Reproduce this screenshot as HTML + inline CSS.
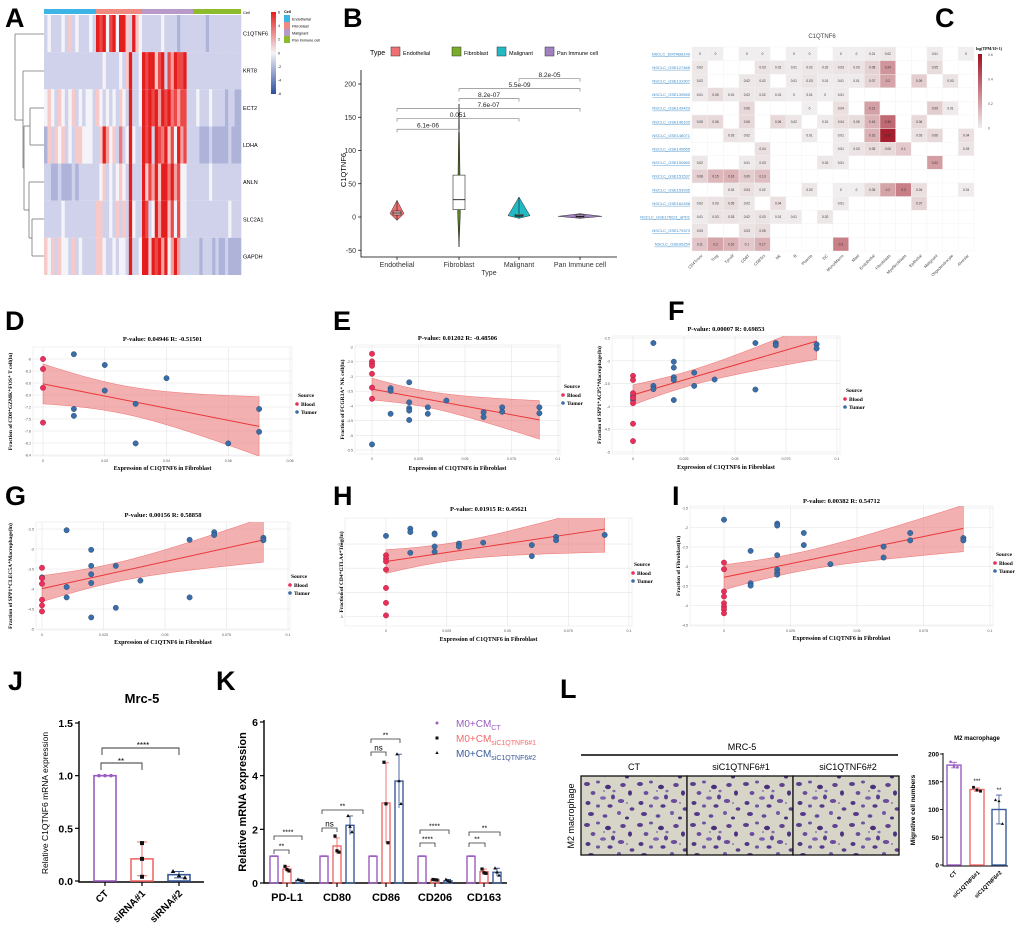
<!DOCTYPE html>
<html><head><meta charset="utf-8">
<style>
html,body{margin:0;padding:0;background:#fff;}
svg{display:block;font-family:"Liberation Sans",sans-serif;}
.let{font-family:"Liberation Sans",sans-serif;font-weight:bold;font-size:27px;fill:#000;}
.ser{font-family:"Liberation Serif",serif;}
</style></head>
<body>
<svg id="fig" width="1020" height="937" viewBox="0 0 1020 937" xmlns="http://www.w3.org/2000/svg">
<defs>
<pattern id="cells" x="0" y="0" width="53" height="41" patternUnits="userSpaceOnUse">
<rect width="53" height="41" fill="#d6d5c8"/>
<ellipse cx="4" cy="5" rx="3" ry="2" fill="#5a3e8c"/><ellipse cx="15" cy="3" rx="2" ry="1.5" fill="#6d52a0"/>
<ellipse cx="25" cy="8" rx="3" ry="2.2" fill="#4a2f7a"/><ellipse cx="10" cy="14" rx="2.4" ry="2" fill="#6a4c9c"/>
<ellipse cx="30" cy="18" rx="2" ry="2.5" fill="#5b3f8e"/><ellipse cx="20" cy="19" rx="3" ry="1.8" fill="#7c62ae"/>
<ellipse cx="5" cy="24" rx="2.5" ry="2" fill="#4f3582"/><ellipse cx="15" cy="27" rx="2" ry="1.6" fill="#6d52a0"/>
<ellipse cx="27" cy="27" rx="2.6" ry="1.8" fill="#54388a"/><ellipse cx="40" cy="6" rx="2.8" ry="2" fill="#5e428f"/>
<ellipse cx="47" cy="14" rx="2" ry="2.6" fill="#4c3180"/><ellipse cx="38" cy="22" rx="3.2" ry="2" fill="#6a4c9c"/>
<ellipse cx="49" cy="30" rx="2.4" ry="1.8" fill="#5a3e8c"/><ellipse cx="36" cy="34" rx="2" ry="2" fill="#7458a8"/>
<ellipse cx="8" cy="35" rx="3" ry="2" fill="#54388a"/><ellipse cx="22" cy="37" rx="2.4" ry="1.8" fill="#63479a"/>
<ellipse cx="44" cy="39" rx="2" ry="1.5" fill="#4a2f7a"/><ellipse cx="31" cy="12" rx="1.6" ry="1.3" fill="#8068ae"/>
<circle cx="21" cy="12" r="1" fill="#8a80a8"/><circle cx="44" cy="24" r="1" fill="#8a80a8"/>
</pattern>
</defs>
<text class="let" x="5" y="27">A</text>
<text class="let" x="343" y="27">B</text>
<text class="let" x="935" y="27">C</text>
<text class="let" x="5" y="330">D</text>
<text class="let" x="333" y="330">E</text>
<text class="let" x="668" y="320">F</text>
<text class="let" x="5" y="505">G</text>
<text class="let" x="333" y="505">H</text>
<text class="let" x="672" y="505">I</text>
<text class="let" x="8" y="690">J</text>
<text class="let" x="216" y="690">K</text>
<text class="let" x="560" y="698">L</text>
</svg>
<script>
// ---------- Panel A data ----------
const heatGroups=['Endothelial','Fibroblast','Malignant','Pan Immune cell'];
const heatGenes=['C1QTNF6','KRT8','ECT2','LDHA','ANLN','SLC2A1','GAPDH'];
const heatC1=['343334353433343','98948949953954','3333334333323333','333323333333333'];
const heatKRT8=['333333333333333','33433334359334','9899589386988933','333333333333333'];
const heatECT2=['454354345343443','54343435439334','9898969897868833','343334333323322'];
const heatLDHA=['253545343554443','35964537349433','9893987958496833','332223222223222'];
const heatANLN=['332232223233333','34534345439333','9586959979684433','333334333333333'];
const heatSLC=['333334333333333','55334353539433','9834969958484433','333333333334333'];
const heatGAPDH=['545354435343333','55433434439334','9959896946963333','332333232232222'];
const heatRows=[heatC1,heatKRT8,heatECT2,heatLDHA,heatANLN,heatSLC,heatGAPDH];
// ---------- Panel B data ----------
const bCats=['Endothelial','Fibroblast','Malignant','Pan Immune cell'];
const bMin=[-5,-45,-2,-2];
const bMax=[25,170,30,5];
const bMode=[5,10,2,1];
const bHalfW=[7,1.5,11,22];
const bQ1=[3,11,1,0];
const bMed=[6,26,2,1];
const bQ3=[9,63,4,3];
const bPairA=[0,0,0,1,1,2];
const bPairB=[1,2,3,2,3,3];
const bPairY=[132,148,163,178,193,208];
const bPairLab=['6.1e-06','0.051','7.6e-07','8.2e-07','5.5e-09','8.2e-05'];
const bYTicks=[-50,0,50,100,150,200];
// ---------- Panel C data ----------
const cCols=['CD4Tconv','Treg','Tprolif','CD8T','CD8Tex','NK','B','Plasma','DC','Mono/Macro','Mast','Endothelial','Fibroblasts','Myofibroblasts','Epithelial','Malignant','Oligodendrocyte','Alveolar'];
const cRowsLab=['NSCLC_EMTAB6149','NSCLC_GSE127465','NSCLC_GSE131907','NSCLC_GSE139555','NSCLC_GSE143423','NSCLC_GSE146100','NSCLC_GSE148071','NSCLC_GSE149655','NSCLC_GSE150660','NSCLC_GSE151537','NSCLC_GSE153935','NSCLC_GSE162498','NSCLC_GSE176021_aPD1','NSCLC_GSE179373','NSCLC_GSE99254'];
const _=null;
const cVals=[
[0,0,_,0,0,_,0,0,_,0,0,0.01,0.02,_,_,0.01,_,0],
[0.02,_,_,_,0.03,0.02,0.01,0.02,0.02,0.03,0.03,0.08,0.24,_,_,0.05,_,_],
[0.02,_,_,0.02,0.02,_,0.01,0.03,0.01,0.01,0.01,0.07,0.2,_,0.09,_,0.03,_],
[0.01,0.05,0.01,0.02,0.02,0.01,0,0.01,0,0.01,_,_,_,_,_,_,_,_],
[_,_,_,0.06,_,_,_,0,_,0.04,_,0.21,_,_,_,0.09,0.01,_],
[0.05,0.06,_,0.06,_,0.06,0.02,_,0.01,0.04,0.05,0.16,0.36,_,0.06,_,_,_],
[_,_,0.03,0.02,_,_,_,0.01,_,0.01,_,0.16,0.56,_,0.03,0.06,_,0.04],
[_,_,_,_,0.04,_,_,_,_,0.01,0.03,0.05,0.06,0.1,_,_,_,0.03],
[0.02,_,_,0.01,0.03,_,_,_,0.02,0.01,_,_,_,_,_,0.22,_,_],
[0.08,0.15,0.16,0.09,0.13,_,_,_,_,_,_,_,_,_,_,_,_,_],
[_,_,0.02,0.04,0.02,_,_,0.02,_,0,0,0.05,0.2,0.3,0.04,_,_,0.01],
[0.02,0.03,0.05,0.02,_,0.04,_,_,_,0.01,_,_,_,_,0.07,_,_,_],
[0.01,0.03,0.03,0.02,0.03,0.01,0.01,_,0.02,_,_,_,_,_,_,_,_,_],
[0.03,_,_,0.03,0.05,_,_,_,_,_,_,_,_,_,_,_,_,_],
[0.11,0.2,0.16,0.1,0.17,_,_,_,_,0.3,_,_,_,_,_,_,_,_]];
// ---------- Scatter data (D-I) ----------
const dBloodX=[0,0,0,0];
const dBloodY=[-6.0,-6.25,-6.72,-7.59];
const dTumorX=[0.01,0.01,0.01,0.02,0.02,0.03,0.03,0.04,0.06,0.07,0.07];
const dTumorY=[-5.88,-7.25,-7.42,-6.15,-6.79,-7.12,-8.11,-6.48,-8.11,-7.25,-7.82];
const eBloodX=[0,0,0,0,0,0,0];
const eBloodY=[-2.23,-2.49,-2.57,-2.64,-2.91,-3.38,-3.76];
const eTumorX=[0,0.01,0.01,0.01,0.02,0.02,0.02,0.02,0.02,0.03,0.03,0.04,0.06,0.06,0.07,0.07,0.09,0.09];
const eTumorY=[-5.31,-3.4,-3.49,-4.27,-3.2,-3.88,-4.08,-4.16,-4.48,-4.05,-4.27,-3.82,-4.22,-4.38,-4.05,-4.2,-4.05,-4.25];
const fBloodX=[0,0,0,0,0,0,0];
const fBloodY=[-3.33,-3.42,-3.71,-3.81,-3.93,-4.38,-4.76];
const fTumorX=[0,0,0.01,0.01,0.01,0.02,0.02,0.02,0.02,0.02,0.03,0.03,0.04,0.06,0.06,0.07,0.07,0.09,0.09];
const fTumorY=[-3.77,-3.86,-2.61,-3.55,-3.62,-3.02,-3.15,-3.36,-3.42,-3.86,-3.26,-3.55,-3.41,-2.61,-3.63,-2.61,-2.66,-2.64,-2.73];
const gBloodX=[0,0,0,0,0,0];
const gBloodY=[-3.47,-3.73,-3.87,-4.27,-4.41,-4.56];
const gTumorX=[0,0.01,0.01,0.01,0.02,0.02,0.02,0.02,0.02,0.03,0.03,0.04,0.06,0.06,0.07,0.07,0.09,0.09];
const gTumorY=[-3.71,-2.53,-3.95,-4.21,-3.02,-3.42,-3.63,-3.85,-4.71,-3.42,-4.47,-3.79,-2.77,-4.21,-2.58,-2.65,-2.72,-2.78];
const hBloodX=[0,0,0,0,0,0,0];
const hBloodY=[-3.73,-3.8,-3.86,-4.03,-4.41,-4.72,-4.98];
const hTumorX=[0,0.01,0.01,0.01,0.02,0.02,0.02,0.02,0.03,0.03,0.04,0.06,0.06,0.07,0.07,0.09];
const hTumorY=[-3.33,-3.18,-3.25,-3.68,-3.28,-3.3,-3.55,-3.66,-3.49,-3.55,-3.47,-3.52,-3.75,-3.35,-3.42,-3.31];
const iBloodX=[0,0,0,0,0,0,0,0];
const iBloodY=[-2.9,-3.07,-3.64,-3.77,-3.94,-4.03,-4.1,-4.2];
const iTumorX=[0,0.01,0.01,0.01,0.02,0.02,0.02,0.02,0.02,0.02,0.03,0.03,0.04,0.06,0.06,0.07,0.07,0.09,0.09];
const iTumorY=[-1.8,-2.6,-3.43,-3.49,-1.9,-1.95,-2.71,-3.08,-3.17,-3.21,-2.14,-2.45,-2.94,-2.49,-2.77,-2.14,-2.33,-2.27,-2.33];
// ---------- Panel J data ----------
const jCats=['CT','siRNA#1','siRNA#2'];
const jMean=[1.0,0.21,0.06];
const jSD=[0,0.16,0.03];
const jPts=[[1,1,1],[0.36,0.21,0.04],[0.09,0.05,0.03]];
const jTicks=[0,0.5,1.0,1.5];
// ---------- Panel K data ----------
const kCats=['PD-L1','CD80','CD86','CD206','CD163'];
const kCT=[1,1,1,1,1];
const kSi1=[0.52,1.38,2.98,0.12,0.42];
const kSi2=[0.1,2.15,3.8,0.08,0.4];
const kSD1=[0.1,0.3,1.5,0.02,0.1];
const kSD2=[0.03,0.35,1.0,0.05,0.15];
const kPts1=[[0.62,0.5,0.45],[1.75,1.2,1.15],[4.5,2.95,1.5],[0.13,0.12,0.11],[0.52,0.38,0.36]];
const kPts2=[[0.13,0.1,0.08],[2.5,2.1,1.9],[4.8,3.8,2.95],[0.13,0.08,0.05],[0.55,0.4,0.28]];
const kTicks=[0,2,4,6];
// ---------- Panel L data ----------
const lCats=['CT','siC1QTNF6#1','siC1QTNF6#2'];
const lMean=[180,136,100];
const lSD=[5,3,26];
const lPts=[[186,178,176],[140,135,133],[117,115,74]];
const lTicks=[0,50,100,150,200];

const NS='http://www.w3.org/2000/svg';
const svg=document.getElementById('fig');
function mk(tag,attrs,parent){const e=document.createElementNS(NS,tag);for(const k in attrs)e.setAttribute(k,attrs[k]);(parent||svg).appendChild(e);return e;}
function tx(str,attrs,parent){const e=mk('text',attrs,parent);e.textContent=str;return e;}
function lin(d0,d1,r0,r1){return v=>r0+(v-d0)/(d1-d0)*(r1-r0);}
function grp(name){const g=mk('g',{});return g;}

// ================= PANEL A =================
(function(){
const g=grp('heatmap-panel-a');
const bounds=[44,96,142,193,241];
const gcol=['#3cb4e6','#f08a80','#b89ac8','#8cbc2c'];
const pal=['#6b74b8','#8c93c9','#aeb3da','#cfd2ea','#f4f3f7','#f7c9c9','#f4a0a0','#f07878','#ec4848','#e41e1e'];
const top=15,bot=275,rh=(bot-top)/heatGenes.length;
heatGroups.forEach((name,gi)=>{
  const r=mk('rect',{x:bounds[gi],y:9,width:bounds[gi+1]-bounds[gi],height:5,fill:gcol[gi]},g);
  
  
});
tx('Cell',{x:243,y:14,'font-size':4},g);
heatRows.forEach((row,ri)=>{
  row.forEach((s,gi)=>{
    const w=(bounds[gi+1]-bounds[gi])/s.length;
    for(let k=0;k<s.length;k++){
      const c=mk('rect',{x:bounds[gi]+k*w,y:top+ri*rh,width:w+0.3,height:rh,fill:pal[+s[k]]},g);
      
      
    }
  });
  const t=tx(heatGenes[ri],{x:243,y:top+ri*rh+rh/2+2,'font-size':5.5},g);
  
  
});
const dl=[[44,34,15,34],[44,71,23,71],[44,108,30,108],[44,145,30,145],[30,108,30,145],[44,182,29,182],[44,219,32,219],[44,256,32,256],[32,219,32,256],[32,238,29,238],[29,182,29,238],[30,126,24,126],[29,210,24,210],[24,126,24,210],[24,168,23,168],[23,71,23,168],[23,120,15,120],[15,34,15,120]];
dl.forEach(l=>mk('line',{x1:l[0],y1:l[1],x2:l[2],y2:l[3],stroke:'#777','stroke-width':0.8},g));
const gr=mk('linearGradient',{id:'gA',x1:0,y1:0,x2:0,y2:1},g);
['#e41e1e','#f4f3f7','#2c4ea0'].forEach((c,i)=>mk('stop',{offset:i*50+'%','stop-color':c},gr));
const cb=mk('rect',{x:271,y:12,width:5,height:82,fill:'url(#gA)'},g);


['6','4','2','0','-2','-4','-6'].forEach((s,i)=>tx(s,{x:278,y:13.5+i*13.6,'font-size':3.5},g));
tx('Cell',{x:284,y:13,'font-size':3.8,'font-weight':'bold'},g);
heatGroups.forEach((n,i)=>{mk('rect',{x:284,y:15+i*7,width:6,height:7,fill:gcol[i]},g);
  const t=tx(n==='Pan Immune cell'?'Pan immune cell':n,{x:292,y:20.5+i*7,'font-size':3.8},g);
  
  });
})();

// ================= PANEL B =================
(function(){
const g=grp('violin-panel-b');
const y=lin(0,200,217,84);
const xs=[397,459,519,580];
const fills=['#ef7070','#7aac2a','#22b9c4','#a080c0'];
const ax=mk('path',{d:'M361 70 V257 H617',fill:'none',stroke:'#000','stroke-width':0.8},g);


bYTicks.forEach(t=>{mk('line',{x1:358,x2:361,y1:y(t),y2:y(t),stroke:'#000','stroke-width':0.7},g);
  tx(String(t),{x:356,y:y(t)+2.5,'font-size':7,'text-anchor':'end',fill:'#333'},g);});
const yl=tx('C1QTNF6',{x:0,y:0,'font-size':7.5,'text-anchor':'middle',transform:'translate(346,170) rotate(-90)'},g);


bCats.forEach((c,i)=>{
  const x=xs[i];
  const v=mk('path',{d:`M${x} ${y(bMax[i])} L${x+bHalfW[i]} ${y(bMode[i])} L${x} ${y(bMin[i])} L${x-bHalfW[i]} ${y(bMode[i])} Z`,fill:fills[i],stroke:'#333','stroke-width':0.5},g);
  
  
  const bw=i===1?6:4;
  const bx=mk('rect',{x:x-bw,y:y(bQ3[i]),width:bw*2,height:Math.max(1,y(bQ1[i])-y(bQ3[i])),fill:'#fff','fill-opacity':i===1?1:0.6,stroke:'#000','stroke-width':0.5},g);
  
  
  mk('line',{x1:x-bw,x2:x+bw,y1:y(bMed[i]),y2:y(bMed[i]),stroke:'#000','stroke-width':0.8},g);
  mk('line',{x1:x,x2:x,y1:y(bQ3[i]),y2:y(bMax[i]),stroke:'#000','stroke-width':0.5},g);
  mk('line',{x1:x,x2:x,y1:y(bQ1[i]),y2:y(bMin[i]),stroke:'#000','stroke-width':0.5},g);
  mk('line',{x1:x,x2:x,y1:257,y2:260,stroke:'#000','stroke-width':0.7},g);
  tx(c,{x:x,y:267,'font-size':7,'text-anchor':'middle',fill:'#333'},g);
});
tx('Type',{x:489,y:275,'font-size':7,'text-anchor':'middle',fill:'#333'},g);
bPairA.forEach((a,k)=>{
  const x1=xs[a],x2=xs[bPairB[k]],yy=y(bPairY[k]);
  const br=mk('path',{d:`M${x1} ${yy+3} V${yy} H${x2} V${yy+3}`,fill:'none',stroke:'#888','stroke-width':0.7},g);
  
  
  tx(bPairLab[k],{x:(x1+x2)/2,y:yy-1.5,'font-size':6.5,'text-anchor':'middle',fill:'#222'},g);
});
tx('Type',{x:370,y:55,'font-size':7},g);
const lx=[391,452,497,545];
bCats.forEach((c,i)=>{mk('rect',{x:lx[i],y:47,width:9,height:9,fill:fills[i],stroke:'#333','stroke-width':0.5},g);
  const t=tx(c,{x:lx[i]+12,y:55,'font-size':5.5},g);
  
  });
})();

// ================= PANEL C =================
(function(){
const g=grp('heatmap-panel-c');
const L=692,R=974,T=47,B=251;
const cw=(R-L)/cCols.length,rh=(B-T)/cRowsLab.length;
tx('C1QTNF6',{x:822,y:38,'font-size':6,'text-anchor':'middle',fill:'#444'},g);
function col(v){const t=Math.min(1,v/0.6);const a=[240,238,238],b=[160,16,32];return `rgb(${a.map((c,i)=>Math.round(c+(b[i]-c)*t)).join(',')})`;}
cRowsLab.forEach((r,ri)=>{
  const t=tx(r,{x:L-2,y:T+ri*rh+rh/2+1.5,'font-size':4,'text-anchor':'end',fill:'#3a8ac8','text-decoration':'underline'},g);
  
  
  cVals[ri].forEach((v,ci)=>{
    const x=L+ci*cw,yy=T+ri*rh;
    mk('rect',{x:x,y:yy,width:cw,height:rh,fill:v===null?'#fff':col(v),stroke:'#f2f2f2','stroke-width':0.4},g);
    if(v!==null){const tv=tx(String(v),{x:x+cw/2,y:yy+rh/2+1.2,'font-size':3.2,'text-anchor':'middle',fill:'#333'},g);
      
      }
  });
});
cCols.forEach((c,ci)=>{const x=L+ci*cw+cw/2;
  const t=tx(c,{x:0,y:0,'font-size':4,'text-anchor':'end',fill:'#444',transform:`translate(${x+3},${B+5}) rotate(-45)`},g);
  
  });
const gr=mk('linearGradient',{id:'gC',x1:0,y1:0,x2:0,y2:1},g);
mk('stop',{offset:'0%','stop-color':'#a01020'},gr);mk('stop',{offset:'100%','stop-color':'#f0eeee'},gr);
const cb=mk('rect',{x:978,y:54,width:4,height:74,fill:'url(#gC)'},g);


tx('log(TPM/10+1)',{x:976,y:50,'font-size':4,'font-weight':'bold',class:'ser'},g);
['0.6','0.4','0.2','0'].forEach((s,i)=>tx(s,{x:988,y:56+i*24.5,'font-size':3.5,fill:'#555'},g));
})();

// ================= SCATTER PANELS =================
function fitLine(xs,ys){const n=xs.length;const mx=xs.reduce((a,b)=>a+b)/n,my=ys.reduce((a,b)=>a+b)/n;let sxx=0,sxy=0;for(let i=0;i<n;i++){sxx+=(xs[i]-mx)**2;sxy+=(xs[i]-mx)*(ys[i]-my);}const b=sxy/sxx,a=my-b*mx;let ss=0;for(let i=0;i<n;i++)ss+=(ys[i]-a-b*xs[i])**2;return {a,b,s:Math.sqrt(ss/(n-2)),n,mx,sxx};}
function scatter(cfg,bx,by,tX,tY){
  const g=grp(cfg.name);
  const X=lin(cfg.xd[0],cfg.xd[1],cfg.xp[0],cfg.xp[1]);
  const Y=lin(cfg.yd[0],cfg.yd[1],cfg.yp[0],cfg.yp[1]);
  const [l,t,r,b]=cfg.box;
  const bg=mk('rect',{x:l,y:t,width:r-l,height:b-t,fill:'#fff',stroke:'#e6e6e6','stroke-width':0.5},g);
  
  
  cfg.xt.forEach(v=>{mk('line',{x1:X(v),x2:X(v),y1:t,y2:b,stroke:'#e4e4e4','stroke-width':0.6},g);
    tx(String(v),{x:X(v),y:b+6,'font-size':3.6,'text-anchor':'middle',fill:'#555'},g);});
  cfg.yt.forEach(v=>{mk('line',{x1:l,x2:r,y1:Y(v),y2:Y(v),stroke:'#e4e4e4','stroke-width':0.6},g);
    tx(String(v),{x:l-2,y:Y(v)+1.5,'font-size':3.6,'text-anchor':'end',fill:'#555'},g);});
  const ax=bx.concat(tX),ay=by.concat(tY);
  const f=fitLine(ax,ay);
  const x0=Math.min(...ax),x1=Math.max(...ax);
  const up=[],lo=[];
  for(let k=0;k<=30;k++){const xv=x0+(x1-x0)*k/30;const yh=f.a+f.b*xv;const se=2.05*f.s*Math.sqrt(1/f.n+(xv-f.mx)**2/f.sxx);
    up.push(X(xv).toFixed(1)+','+Y(yh+se).toFixed(1));lo.unshift(X(xv).toFixed(1)+','+Y(yh-se).toFixed(1));}
  const cid='clip'+cfg.name;const cp=mk('clipPath',{id:cid},g);mk('rect',{x:l,y:t,width:r-l,height:b-t},cp);
  const band=mk('polygon',{points:up.concat(lo).join(' '),fill:'#eb7b7b','fill-opacity':0.6,stroke:'#e55','stroke-width':0.4,'clip-path':`url(#${cid})`},g);
  
  
  const ln=mk('line',{x1:X(x0),y1:Y(f.a+f.b*x0),x2:X(x1),y2:Y(f.a+f.b*x1),stroke:'#e8373a','stroke-width':1,'clip-path':`url(#${cid})`},g);
  
  
  tX.forEach((v,i)=>{const c=mk('circle',{cx:X(v),cy:Y(tY[i]),r:2.7,fill:'#3a6ea8',stroke:'#1f3f66','stroke-width':0.4},g);
    
    });
  bx.forEach((v,i)=>{const c=mk('circle',{cx:X(v),cy:Y(by[i]),r:2.7,fill:'#e8305a',stroke:'#a01838','stroke-width':0.4},g);
    
    });
  const ti=tx(cfg.title,{x:(l+r)/2,y:cfg.ty,'font-size':6.5,'font-weight':'bold','text-anchor':'middle',class:'ser'},g);
  
  
  const xl=tx('Expression of C1QTNF6 in Fibroblast',{x:(l+r)/2,y:cfg.xly,'font-size':6,'font-weight':'bold','text-anchor':'middle',class:'ser'},g);
  
  
  const yl=tx(cfg.ylab,{x:0,y:0,'font-size':5.5,'font-weight':'bold','text-anchor':'middle',class:'ser',transform:`translate(${cfg.ylx},${(t+b)/2}) rotate(-90)`},g);
  
  
  const [gx,gy]=cfg.leg;
  tx('Source',{x:gx+3,y:gy,'font-size':5.5,'font-weight':'bold',class:'ser'},g);
  mk('circle',{cx:gx+2,cy:gy+7,r:1.8,fill:'#e8305a'},g);
  const l1=tx('Blood',{x:gx+6,y:gy+9,'font-size':5.5,'font-weight':'bold',class:'ser'},g);
  
  
  mk('circle',{cx:gx+2,cy:gy+15,r:1.8,fill:'#3a6ea8'},g);
  const l2=tx('Tumor',{x:gx+6,y:gy+17,'font-size':5.5,'font-weight':'bold',class:'ser'},g);
  
  
}
const t10=[0,0.025,0.05,0.075,0.1];
scatter({name:'scatter-d',xd:[0,0.08],xp:[43,290],yd:[-6,-8.4],yp:[359,455],box:[33,347,292,456],xt:[0,0.02,0.04,0.06,0.08],yt:[-6,-6.3,-6.6,-6.9,-7.2,-7.5,-7.8,-8.1,-8.4],title:'P-value: 0.04946  R: -0.51501',ty:341,xly:470,ylab:'Fraction of CD8⁺GZMK⁺FOS⁺ T cell(ln)',ylx:12,leg:[295,397]},dBloodX,dBloodY,dTumorX,dTumorY);
scatter({name:'scatter-e',xd:[0,0.1],xp:[372,558],yd:[-2,-5.5],yp:[347,450],box:[355,345,560,454],xt:t10,yt:[-2,-2.5,-3,-3.5,-4,-4.5,-5,-5.5],title:'P-value: 0.01202  R: -0.48506',ty:340,xly:470,ylab:'Fraction of FCGR3A⁺ NK cell(ln)',ylx:344,leg:[561,388]},eBloodX,eBloodY,eTumorX,eTumorY);
scatter({name:'scatter-f',xd:[0,0.1],xp:[633,837],yd:[-2.5,-5],yp:[338,452],box:[612,336,840,454],xt:t10,yt:[-2.5,-3,-3.5,-4,-4.5,-5],title:'P-value: 0.00007  R: 0.69853',ty:331,xly:469,ylab:'Fraction of SPP1⁺ACP5⁺Macrophage(ln)',ylx:601,leg:[843,392]},fBloodX,fBloodY,fTumorX,fTumorY);
scatter({name:'scatter-g',xd:[0,0.1],xp:[42,288],yd:[-2.5,-5],yp:[529,629],box:[36,522,290,630],xt:t10,yt:[-2.5,-3,-3.5,-4,-4.5,-5],title:'P-value: 0.00156  R: 0.58858',ty:517,xly:644,ylab:'Fraction of SPP1⁺CLEC5A⁺Macrophage(ln)',ylx:12,leg:[288,578]},gBloodX,gBloodY,gTumorX,gTumorY);
scatter({name:'scatter-h',xd:[0,0.1],xp:[386,629],yd:[-3,-5.2],yp:[520,626],box:[345,518,632,626],xt:t10,yt:[-3.5,-4,-4.5,-5],title:'P-value: 0.01915  R: 0.45621',ty:511,xly:641,ylab:'Fraction of CD4⁺CTLA4⁺Treg(ln)',ylx:343,leg:[631,566]},hBloodX,hBloodY,hTumorX,hTumorY);
scatter({name:'scatter-i',xd:[0,0.1],xp:[724,990],yd:[-1.5,-4.5],yp:[508,625],box:[690,506,993,626],xt:t10,yt:[-1.5,-2,-2.5,-3,-3.5,-4,-4.5],title:'P-value: 0.00382  R: 0.54712',ty:503,xly:640,ylab:'Fraction of Fibroblast(ln)',ylx:680,leg:[993,556]},iBloodX,iBloodY,iTumorX,iTumorY);

// ================= PANEL J =================
const PURP='#9b5cc0',SAL='#f26b6b',BLU='#3a5a9a';
(function(){
const g=grp('bar-panel-j');
const y=lin(0,1.5,881,723);
const xs=[105,142,179];const cols=[PURP,SAL,BLU];
const ti=tx('Mrc-5',{x:142,y:703,'font-size':13,'font-weight':'bold','text-anchor':'middle'},g);


mk('path',{d:'M79 721 V882 H204',fill:'none',stroke:'#000','stroke-width':1.4},g);
jTicks.forEach(v=>{mk('line',{x1:75,x2:79,y1:y(v),y2:y(v),stroke:'#000','stroke-width':1.2},g);
  tx(v.toFixed(1),{x:73,y:y(v)+4,'font-size':10.5,'font-weight':'bold','text-anchor':'end'},g);});
const yl=tx('Relative C1QTNF6 mRNA expression',{x:0,y:0,'font-size':8.5,'text-anchor':'middle',transform:'translate(48,803) rotate(-90)'},g);


jCats.forEach((c,i)=>{const x=xs[i];
  const bar=mk('rect',{x:x-11,y:y(jMean[i]),width:22,height:881-y(jMean[i]),fill:'none',stroke:cols[i],'stroke-width':1.6},g);
  
  
  if(jSD[i]>0){mk('path',{d:`M${x} ${y(jMean[i]-jSD[i])} V${y(jMean[i]+jSD[i])} M${x-5} ${y(jMean[i]+jSD[i])} H${x+5} M${x-5} ${y(jMean[i]-jSD[i])} H${x+5}`,stroke:cols[i],'stroke-width':1,fill:'none'},g);}
  jPts[i].forEach((p,k)=>{const px=x-6+k*6;
    if(i===0)mk('circle',{cx:px,cy:y(p),r:1.8,fill:PURP},g);
    else if(i===1)mk('rect',{x:x-2,y:y(p)-2,width:4,height:4,fill:'#111'},g);
    else mk('path',{d:`M${px} ${y(p)-2.5} l2.3 4 h-4.6 Z`,fill:'#111'},g);});
  mk('line',{x1:x,x2:x,y1:882,y2:886,stroke:'#000','stroke-width':1.2},g);
  tx(c,{x:0,y:0,'font-size':10,'font-weight':'bold','text-anchor':'end',transform:`translate(${x+4},${894}) rotate(-45)`},g);
});
mk('path',{d:'M101 770 V763 H142 V770',fill:'none',stroke:'#333','stroke-width':0.9},g);
tx('**',{x:121,y:764,'font-size':8,'text-anchor':'middle'},g);
mk('path',{d:'M102 755 V748 H179 V755',fill:'none',stroke:'#333','stroke-width':0.9},g);
tx('****',{x:143,y:748,'font-size':8,'text-anchor':'middle'},g);
})();

// ================= PANEL K =================
(function(){
const g=grp('bar-panel-k');
const y=lin(0,6,883,722);
const xs=[287,337,386,435,484];const off=[-13,0,13];const cols=[PURP,SAL,BLU];
mk('path',{d:'M264 720 V883 H507',fill:'none',stroke:'#000','stroke-width':1.4},g);
kTicks.forEach(v=>{mk('line',{x1:260,x2:264,y1:y(v),y2:y(v),stroke:'#000','stroke-width':1.2},g);
  tx(String(v),{x:258,y:y(v)+4,'font-size':10.5,'font-weight':'bold','text-anchor':'end'},g);});
const yl=tx('Relative mRNA expression',{x:0,y:0,'font-size':11,'font-weight':'bold','text-anchor':'middle',transform:'translate(246,802) rotate(-90)'},g);


const series=[kCT,kSi1,kSi2],sds=[[0,0,0,0,0],kSD1,kSD2],pts=[null,kPts1,kPts2];
kCats.forEach((c,ci)=>{
  series.forEach((s,si)=>{const x=xs[ci]+off[si];
    const bar=mk('rect',{x:x-4,y:y(s[ci]),width:8,height:883-y(s[ci]),fill:'none',stroke:cols[si],'stroke-width':1.4},g);
    
    
    const sd=sds[si][ci];
    if(sd>0)mk('path',{d:`M${x} ${y(Math.max(0,s[ci]-sd))} V${y(s[ci]+sd)} M${x-3} ${y(s[ci]+sd)} H${x+3}`,stroke:cols[si],'stroke-width':0.9,fill:'none'},g);
    if(si===0){[-2,0,2].forEach(d=>mk('circle',{cx:x+d,cy:y(1),r:1,fill:PURP},g));}
    else pts[si][ci].forEach((p,k)=>{const px=x-2+k*2;
      if(si===1)mk('rect',{x:px-1.6,y:y(p)-1.6,width:3.2,height:3.2,fill:'#111'},g);
      else mk('path',{d:`M${px} ${y(p)-2} l1.8 3.2 h-3.6 Z`,fill:'#111'},g);});
  });
  mk('line',{x1:xs[ci],x2:xs[ci],y1:883,y2:887,stroke:'#000','stroke-width':1.2},g);
  const t=tx(c,{x:xs[ci],y:901,'font-size':11,'font-weight':'bold','text-anchor':'middle'},g);
  
  
});
const br=[[274,289,850,'**'],[274,302,836,'****'],[322,337,828,'ns'],[322,363,810,'**'],[371,386,752,'ns'],[371,400,739,'**'],[420,435,843,'****'],[420,449,830,'****'],[469,485,843,'**'],[469,500,832,'**']];
br.forEach(b=>{mk('path',{d:`M${b[0]} ${b[2]+4} V${b[2]} H${b[1]} V${b[2]+4}`,fill:'none',stroke:'#333','stroke-width':0.8},g);
  tx(b[3],{x:(b[0]+b[1])/2,y:b[2]-1.5,'font-size':b[3]==='ns'?8:7,'text-anchor':'middle'},g);});
const labs=['CT','siC1QTNF6#1','siC1QTNF6#2'];
labs.forEach((s,i)=>{const yy=724+i*15;
  if(i===0)mk('circle',{cx:437,cy:yy-1,r:1.5,fill:PURP},g);
  else if(i===1)mk('rect',{x:435.5,y:yy-2.5,width:3,height:3,fill:'#111'},g);
  else mk('path',{d:`M437 ${yy-3} l1.7 3 h-3.4 Z`,fill:'#111'},g);
  const t=tx('M0+CM',{x:456,y:yy+3,'font-size':10,fill:cols[i]},g);
  
  
  const sub=mk('tspan',{'font-size':7,dy:3},t);sub.textContent=s;});
})();

// ================= PANEL L =================
(function(){
const g=grp('migration-panel-l');
tx('MRC-5',{x:742,y:750,'font-size':9,'text-anchor':'middle'},g);
mk('line',{x1:581,x2:898,y1:755,y2:755,stroke:'#000','stroke-width':1.4},g);
const cx=[634,741,848];
lCats.forEach((c,i)=>{tx(c,{x:cx[i],y:770,'font-size':9,'text-anchor':'middle'},g);
  const im=mk('rect',{x:581+i*106,y:776,width:106,height:79,fill:'url(#cells)',stroke:'#111','stroke-width':1.3},g);
  
  });
tx('M2 macrophage',{x:0,y:0,'font-size':9,'text-anchor':'middle',transform:'translate(574,816) rotate(-90)'},g);
const y=lin(0,200,865,754);
const xs=[954,977,999];const cols=[PURP,SAL,BLU];
tx('M2 macrophage',{x:977,y:740,'font-size':6,'font-weight':'bold','text-anchor':'middle'},g);
mk('path',{d:'M943 753 V866 H1008',fill:'none',stroke:'#000','stroke-width':1},g);
lTicks.forEach(v=>{mk('line',{x1:940,x2:943,y1:y(v),y2:y(v),stroke:'#000','stroke-width':0.9},g);
  tx(String(v),{x:939,y:y(v)+2.5,'font-size':6.5,'font-weight':'bold','text-anchor':'end'},g);});
const yl=tx('Migrative cell numbers',{x:0,y:0,'font-size':6.5,'font-weight':'bold','text-anchor':'middle',transform:'translate(915,810) rotate(-90)'},g);


lCats.forEach((c,i)=>{const x=xs[i];
  const bar=mk('rect',{x:x-7,y:y(lMean[i]),width:14,height:865-y(lMean[i]),fill:'none',stroke:cols[i],'stroke-width':1.4},g);
  
  
  mk('path',{d:`M${x} ${y(lMean[i]-lSD[i])} V${y(lMean[i]+lSD[i])} M${x-3} ${y(lMean[i]+lSD[i])} H${x+3} M${x-3} ${y(lMean[i]-lSD[i])} H${x+3}`,stroke:cols[i],'stroke-width':0.8,fill:'none'},g);
  lPts[i].forEach((p,k)=>{const px=x-3.5+k*3.5;
    if(i===0)mk('circle',{cx:px,cy:y(p),r:1.3,fill:PURP},g);
    else if(i===1)mk('rect',{x:px-1.4,y:y(p)-1.4,width:2.8,height:2.8,fill:'#111'},g);
    else mk('path',{d:`M${px} ${y(p)-1.8} l1.6 2.8 h-3.2 Z`,fill:'#111'},g);});
  tx(c,{x:0,y:0,'font-size':5.5,'font-weight':'bold','text-anchor':'end',transform:`translate(${x+3},873) rotate(-45)`},g);
});
tx('***',{x:977,y:783,'font-size':6,'text-anchor':'middle'},g);
tx('**',{x:999,y:792,'font-size':6,'text-anchor':'middle'},g);
})();
</script>
</body></html>
